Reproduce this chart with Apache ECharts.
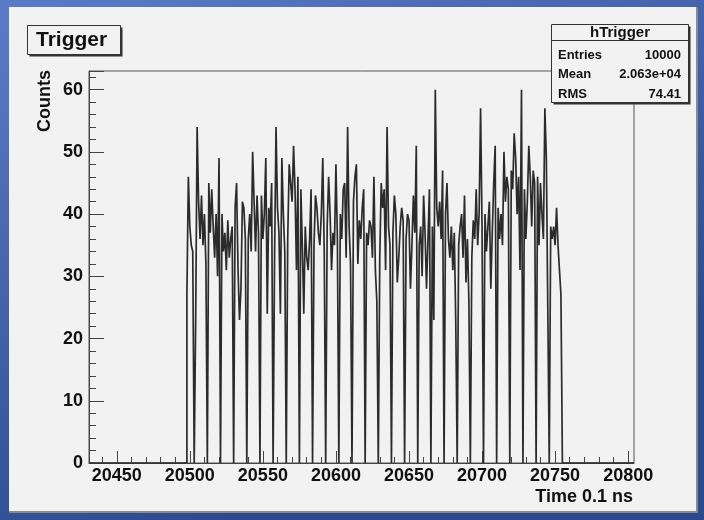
<!DOCTYPE html>
<html>
<head>
<meta charset="utf-8">
<script src="https://cdn.jsdelivr.net/npm/echarts@6/dist/echarts.min.js"></script>
<style>
  html, body { margin: 0; padding: 0; }
  #trigger-hist { width: 704px; height: 520px; }
</style>
</head>
<body>
<div id="trigger-hist"></div>
<script>
// histogram range (0.1 ns units) and bin contents, one bin per unit
const xMin = 20431;
const xMax = 20804;
const binStart = 20498;
const counts = [
  27, 46, 38, 35, 34, 0,
  23, 54, 42, 36, 43, 35, 40, 32, 0,
  45, 37, 44, 38, 33, 40, 30, 49, 0,
  40, 34, 37, 31, 39, 33, 36, 38, 0,
  41, 45, 31, 23, 28, 42, 41, 36, 0,
  36, 40, 34, 50, 42, 34, 43, 37, 0,
  43, 36, 40, 49, 24, 41, 38, 45, 0,
  33, 54, 41, 37, 24, 49, 40, 34, 0,
  36, 48, 45, 42, 51, 44, 31, 46, 0,
  44, 35, 24, 38, 33, 31, 36, 44, 0,
  35, 43, 41, 37, 35, 40, 49, 34, 0,
  38, 46, 40, 31, 37, 35, 48, 36, 0,
  40, 36, 44, 45, 33, 54, 38, 32, 0,
  42, 46, 48, 32, 39, 36, 41, 44, 0,
  37, 35, 39, 38, 33, 46, 31, 26, 0,
  33, 45, 41, 44, 31, 54, 38, 35, 0,
  37, 43, 40, 29, 33, 38, 41, 39, 0,
  36, 40, 39, 28, 35, 43, 37, 51, 0,
  35, 38, 30, 43, 37, 28, 36, 44, 0,
  38, 23, 60, 41, 38, 42, 36, 47, 0,
  40, 45, 36, 33, 38, 31, 37, 23, 0,
  35, 38, 40, 33, 43, 29, 36, 26, 0,
  33, 39, 36, 44, 35, 40, 57, 38, 0,
  40, 34, 38, 42, 28, 37, 45, 51, 0,
  41, 36, 40, 35, 50, 42, 46, 44, 0,
  47, 44, 53, 49, 40, 46, 31, 60, 0,
  44, 36, 42, 51, 46, 38, 47, 45, 0,
  46, 35, 45, 40, 36, 57, 49, 25, 0,
  38, 36, 38, 35, 41, 35, 31, 27
];

const xTickValues = [20450, 20500, 20550, 20600, 20650, 20700, 20750, 20800];
const xMinorTicks = [
  20440, 20460, 20470, 20480, 20490, 20510, 20520, 20530, 20540,
  20560, 20570, 20580, 20590, 20610, 20620, 20630, 20640,
  20660, 20670, 20680, 20690, 20710, 20720, 20730, 20740,
  20760, 20770, 20780, 20790
];
const yMax = 63;

const histTitle = 'Trigger';
const xTitle = 'Time 0.1 ns';
const yTitle = 'Counts';
const statsName = 'hTrigger';
const statsLabels = ['Entries', 'Mean', 'RMS'];
const statsValues = ['10000', '2.063e+04', '74.41'];

const FONT = 'Liberation Sans, Arial, sans-serif';
const INK = '#111';
const PANEL = '#f2f2f2';

// step outline like ROOT draws it: baseline, bins, back to baseline
const histData = [[xMin, 0]];
counts.forEach((c, i) => histData.push([binStart + i, c]));
histData.push([binStart + counts.length, 0], [xMax, 0]);

const statsText = [];
statsLabels.forEach((label, i) => {
  const y = 55 + i * 19.5;
  statsText.push({
    type: 'text', z: 102, x: 558, y: y,
    style: { text: label, font: 'bold 13px ' + FONT, fill: INK, verticalAlign: 'middle' }
  });
  statsText.push({
    type: 'text', z: 102, x: 681, y: y,
    style: { text: statsValues[i], font: 'bold 13px ' + FONT, fill: INK, align: 'right', verticalAlign: 'middle' }
  });
});

const option = {
  animation: false,
  graphic: [
    {
      type: 'rect', z: -2, silent: true,
      shape: { x: 0, y: 0, width: 704, height: 520 },
      style: {
        fill: new echarts.graphic.LinearGradient(0, 0, 0.3, 1, [
          { offset: 0, color: '#5a7cc8' },
          { offset: 1, color: '#2d4a8e' }
        ])
      }
    },
    {
      type: 'rect', z: -1, silent: true,
      shape: { x: 9, y: 7, width: 688, height: 505 },
      style: { fill: PANEL }
    },
    {
      type: 'polyline', z: -1, silent: true,
      shape: { points: [[697, 7], [697, 512], [9, 512]] },
      style: { stroke: '#8a8a8a', lineWidth: 2, fill: null }
    },
    // title pave
    {
      type: 'rect', z: 100, silent: true,
      shape: { x: 29.5, y: 27.5, width: 93, height: 29 },
      style: { fill: '#333' }
    },
    {
      type: 'rect', z: 101, silent: true,
      shape: { x: 27.5, y: 25.5, width: 93, height: 29 },
      style: { fill: PANEL, stroke: '#333', lineWidth: 1 }
    },
    {
      type: 'text', z: 102, x: 36, y: 40.5,
      style: { text: histTitle, font: 'bold 21px ' + FONT, fill: INK, verticalAlign: 'middle' }
    },
    // stats box
    {
      type: 'rect', z: 100, silent: true,
      shape: { x: 553.5, y: 26.5, width: 137, height: 78 },
      style: { fill: '#333' }
    },
    {
      type: 'rect', z: 101, silent: true,
      shape: { x: 551.5, y: 24.5, width: 137, height: 78 },
      style: { fill: PANEL, stroke: '#333', lineWidth: 1 }
    },
    {
      type: 'line', z: 102, silent: true,
      shape: { x1: 551.5, y1: 40.5, x2: 688.5, y2: 40.5 },
      style: { stroke: '#333', lineWidth: 1 }
    },
    {
      type: 'text', z: 102, x: 620, y: 32.5,
      style: { text: statsName, font: 'bold 15px ' + FONT, fill: INK, align: 'center', verticalAlign: 'middle' }
    },
    ...statsText,
    // axis titles
    {
      type: 'text', z: 102, x: 45, y: 70, rotation: Math.PI / 2,
      style: { text: yTitle, font: 'bold 18px ' + FONT, fill: INK, align: 'right', verticalAlign: 'middle' }
    },
    {
      type: 'text', z: 102, x: 633, y: 497,
      style: { text: xTitle, font: 'bold 18px ' + FONT, fill: INK, align: 'right', verticalAlign: 'middle' }
    }
  ],
  grid: {
    left: 89, top: 71, width: 545, height: 392,
    show: true, borderColor: '#555', borderWidth: 1, backgroundColor: 'transparent'
  },
  xAxis: [
    {
      type: 'value', min: xMin, max: xMax, position: 'bottom',
      axisLine: { show: true, lineStyle: { color: '#444', width: 1 } },
      axisTick: { show: true, inside: true, length: 12, customValues: xTickValues, lineStyle: { color: '#444' } },
      axisLabel: {
        customValues: xTickValues, margin: 4,
        formatter: (v) => String(v),
        fontSize: 18, fontWeight: 'bold', fontFamily: FONT, color: INK
      },
      splitLine: { show: false }
    },
    {
      type: 'value', min: xMin, max: xMax, position: 'bottom',
      axisLine: { show: false },
      axisTick: { show: true, inside: true, length: 6, customValues: xMinorTicks, lineStyle: { color: '#444' } },
      axisLabel: { show: false },
      splitLine: { show: false }
    }
  ],
  yAxis: {
    type: 'value', min: 0, max: yMax, interval: 10,
    axisLine: { show: true, lineStyle: { color: '#444', width: 1 } },
    axisTick: { show: true, inside: true, length: 15, lineStyle: { color: '#444' } },
    minorTick: { show: true, splitNumber: 5, length: 7, lineStyle: { color: '#444' } },
    axisLabel: {
      showMaxLabel: false, margin: 6,
      fontSize: 18, fontWeight: 'bold', fontFamily: FONT, color: INK
    },
    splitLine: { show: false },
    minorSplitLine: { show: false }
  },
  series: [
    {
      name: statsName,
      type: 'line',
      xAxisIndex: 0,
      step: 'end',
      symbol: 'none',
      silent: true,
      lineStyle: { color: '#2b2b2b', width: 1.7 },
      data: histData
    }
  ]
};

const chart = echarts.init(document.getElementById('trigger-hist'));
chart.setOption(option);
</script>
</body>
</html>
